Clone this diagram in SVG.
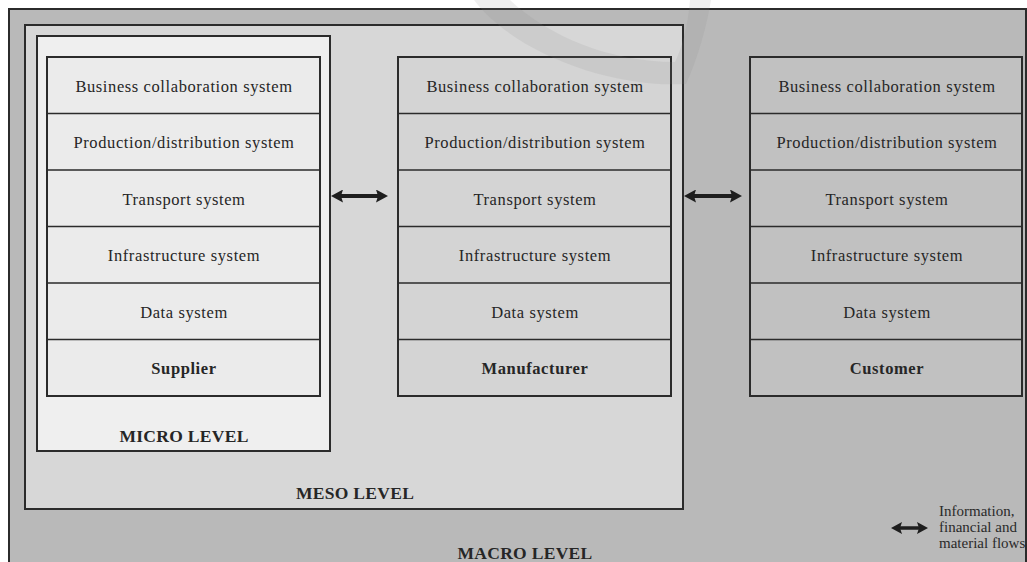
<svg xmlns="http://www.w3.org/2000/svg" width="1027" height="562" viewBox="0 0 1027 562">
<style>
.frame{stroke:#2b2b2b;stroke-width:2;}
.row{stroke:#2b2b2b;stroke-width:2;}
.div{stroke:#2b2b2b;stroke-width:1.6;}
.t{font-family:"Liberation Serif","Times New Roman",serif;font-size:16.5px;fill:#262626;text-anchor:middle;letter-spacing:0.6px;}
.b{font-weight:bold;}
.lvl{font-family:"Liberation Serif","Times New Roman",serif;font-size:17.5px;font-weight:bold;fill:#262626;text-anchor:middle;letter-spacing:0.3px;}
.leg{font-family:"Liberation Serif","Times New Roman",serif;font-size:15px;fill:#2a2a2a;}
.arr{stroke:#1e1e1e;stroke-width:4;fill:none;marker-start:url(#ah);marker-end:url(#ah);}
.arrs{stroke:#1e1e1e;stroke-width:3.5;fill:none;marker-start:url(#ahs);marker-end:url(#ahs);}
</style>
<defs>
<marker id="ah" viewBox="0 0 12 13" refX="8" refY="6.5" markerWidth="12" markerHeight="13" markerUnits="userSpaceOnUse" orient="auto-start-reverse">
<path d="M0,0 L12,6.5 L0,13 L2,6.5 z" fill="#1e1e1e"/>
</marker>
<marker id="ahs" viewBox="0 0 11 12" refX="7" refY="6" markerWidth="11" markerHeight="12" markerUnits="userSpaceOnUse" orient="auto-start-reverse">
<path d="M0,0 L11,6 L0,12 L2,6 z" fill="#1e1e1e"/>
</marker>
</defs>
<rect x="0" y="0" width="1027" height="562" fill="#ffffff"/>
<g id="macro">
<rect class="frame" x="9" y="9" width="1017" height="560" fill="#b9b9b9"/>
<text class="lvl" x="525" y="559">MACRO LEVEL</text>
</g>
<g id="meso">
<rect class="frame" x="25" y="25" width="658" height="484" fill="#d7d7d7"/>
<text class="lvl" x="355" y="499">MESO LEVEL</text>
</g>
<g id="micro">
<rect class="frame" x="37" y="36" width="293" height="415" fill="#efefef"/>
<text class="lvl" x="184" y="442">MICRO LEVEL</text>
</g>
<g id="supplier">
<rect class="row" x="47" y="57" width="273" height="339" fill="#ebebeb"/>
<path class="div" d="M47,113.5H320M47,170H320M47,226.5H320M47,283H320M47,339.5H320"/>
<text class="t" x="184" y="92">Business collaboration system</text>
<text class="t" x="184" y="148">Production/distribution system</text>
<text class="t" x="184" y="205">Transport system</text>
<text class="t" x="184" y="261">Infrastructure system</text>
<text class="t" x="184" y="318">Data system</text>
<text class="t b" x="184" y="374">Supplier</text>
</g>
<g id="manufacturer">
<rect class="row" x="398" y="57" width="273" height="339" fill="#d4d4d4"/>
<path class="div" d="M398,113.5H671M398,170H671M398,226.5H671M398,283H671M398,339.5H671"/>
<text class="t" x="535" y="92">Business collaboration system</text>
<text class="t" x="535" y="148">Production/distribution system</text>
<text class="t" x="535" y="205">Transport system</text>
<text class="t" x="535" y="261">Infrastructure system</text>
<text class="t" x="535" y="318">Data system</text>
<text class="t b" x="535" y="374">Manufacturer</text>
</g>
<g id="customer">
<rect class="row" x="750" y="57" width="272" height="339" fill="#c1c1c1"/>
<path class="div" d="M750,113.5H1022M750,170H1022M750,226.5H1022M750,283H1022M750,339.5H1022"/>
<text class="t" x="887" y="92">Business collaboration system</text>
<text class="t" x="887" y="148">Production/distribution system</text>
<text class="t" x="887" y="205">Transport system</text>
<text class="t" x="887" y="261">Infrastructure system</text>
<text class="t" x="887" y="318">Data system</text>
<text class="t b" x="887" y="374">Customer</text>
</g>
<g id="watermark">
<path d="M474,0 C512,50 605,88 686,84 C698,58 707,25 711,0 L690,0 C688,26 682,48 675,62 C610,62 548,36 510,0 Z" fill="#808080" fill-opacity="0.13"/>
</g>
<g id="connectors">
<line class="arr" x1="335" y1="196" x2="384" y2="196"/>
<line class="arr" x1="688" y1="196" x2="738" y2="196"/>
</g>
<g id="legend">
<line class="arrs" x1="895" y1="528" x2="924" y2="528"/>
<text class="leg" x="939" y="516">Information,</text>
<text class="leg" x="939" y="532">financial and</text>
<text class="leg" x="939" y="548">material flows</text>
</g>
</svg>
